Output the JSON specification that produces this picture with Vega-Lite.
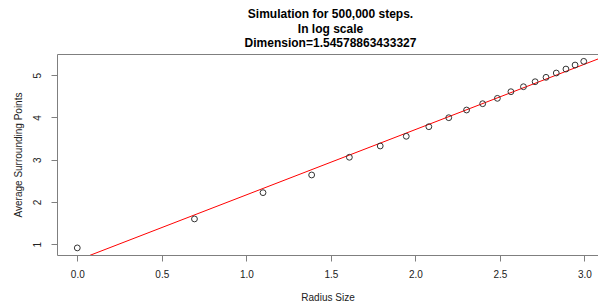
{
  "$schema": "https://vega.github.io/schema/vega-lite/v6.json",
  "width": 541,
  "height": 201,
  "autosize": {"type": "none"},
  "padding": {"left": 57, "top": 54, "right": 0, "bottom": 46},
  "background": "white",
  "config": {
    "view": {"stroke": null},
    "font": "Liberation Sans",
    "axis": {
      "domain": true,
      "domainColor": "#7f7f7f",
      "domainWidth": 1,
      "tickColor": "#7f7f7f",
      "tickSize": 6,
      "labelColor": "#222222",
      "labelFont": "Liberation Sans",
      "labelFontSize": 10,
      "titleFont": "Liberation Sans",
      "titleFontSize": 10,
      "titleFontWeight": "normal",
      "titleColor": "#222222",
      "grid": false
    }
  },
  "title": {
    "text": ["Simulation for 500,000 steps.", "In log scale", "Dimension=1.54578863433327"],
    "font": "Liberation Sans",
    "fontSize": 12,
    "fontWeight": "bold",
    "lineHeight": 14.5,
    "anchor": "middle",
    "offset": 4,
    "dx": 3,
    "color": "#000000"
  },
  "datasets": {
    "pts": [
      {"radius": 0.0, "avg": 0.913},
      {"radius": 0.6931, "avg": 1.598},
      {"radius": 1.0986, "avg": 2.22},
      {"radius": 1.3863, "avg": 2.638},
      {"radius": 1.6094, "avg": 3.057},
      {"radius": 1.7918, "avg": 3.324},
      {"radius": 1.9459, "avg": 3.553},
      {"radius": 2.0794, "avg": 3.78},
      {"radius": 2.1972, "avg": 3.993},
      {"radius": 2.3026, "avg": 4.175},
      {"radius": 2.3979, "avg": 4.324},
      {"radius": 2.4849, "avg": 4.451},
      {"radius": 2.5649, "avg": 4.608},
      {"radius": 2.6391, "avg": 4.726},
      {"radius": 2.7081, "avg": 4.844},
      {"radius": 2.7726, "avg": 4.948},
      {"radius": 2.8332, "avg": 5.05},
      {"radius": 2.8904, "avg": 5.144},
      {"radius": 2.9444, "avg": 5.239},
      {"radius": 2.9957, "avg": 5.326}
    ],
    "fit": [
      {"radius": -0.12, "avg": 0.436},
      {"radius": 3.12, "avg": 5.444}
    ]
  },
  "layer": [
    {
      "data": {"name": "fit"},
      "mark": {"type": "line", "color": "#ff0000", "strokeWidth": 1, "clip": true},
      "encoding": {
        "x": {
          "field": "radius", "type": "quantitative",
          "scale": {"domain": [-0.12, 3.08], "nice": false, "zero": false},
          "axis": {"orient": "top", "labels": false, "ticks": false, "title": null, "domain": true}
        },
        "y": {
          "field": "avg", "type": "quantitative",
          "scale": {"domain": [0.745, 5.5], "nice": false, "zero": false},
          "axis": {
            "orient": "left",
            "values": [1, 2, 3, 4, 5],
            "labelAngle": -90,
            "labelAlign": "center",
            "labelBaseline": "bottom",
            "labelPadding": 9,
            "title": "Average Surrounding Points",
            "titlePadding": 9
          }
        }
      }
    },
    {
      "data": {"name": "pts"},
      "mark": {"type": "point", "shape": "circle", "filled": false, "size": 34, "stroke": "#333333", "strokeWidth": 1, "opacity": 1},
      "encoding": {
        "x": {
          "field": "radius", "type": "quantitative",
          "axis": {
            "orient": "bottom",
            "values": [0, 0.5, 1, 1.5, 2, 2.5, 3],
            "format": ".1f",
            "labelPadding": 8,
            "title": "Radius Size",
            "titlePadding": 13
          }
        },
        "y": {"field": "avg", "type": "quantitative"}
      }
    }
  ]
}
